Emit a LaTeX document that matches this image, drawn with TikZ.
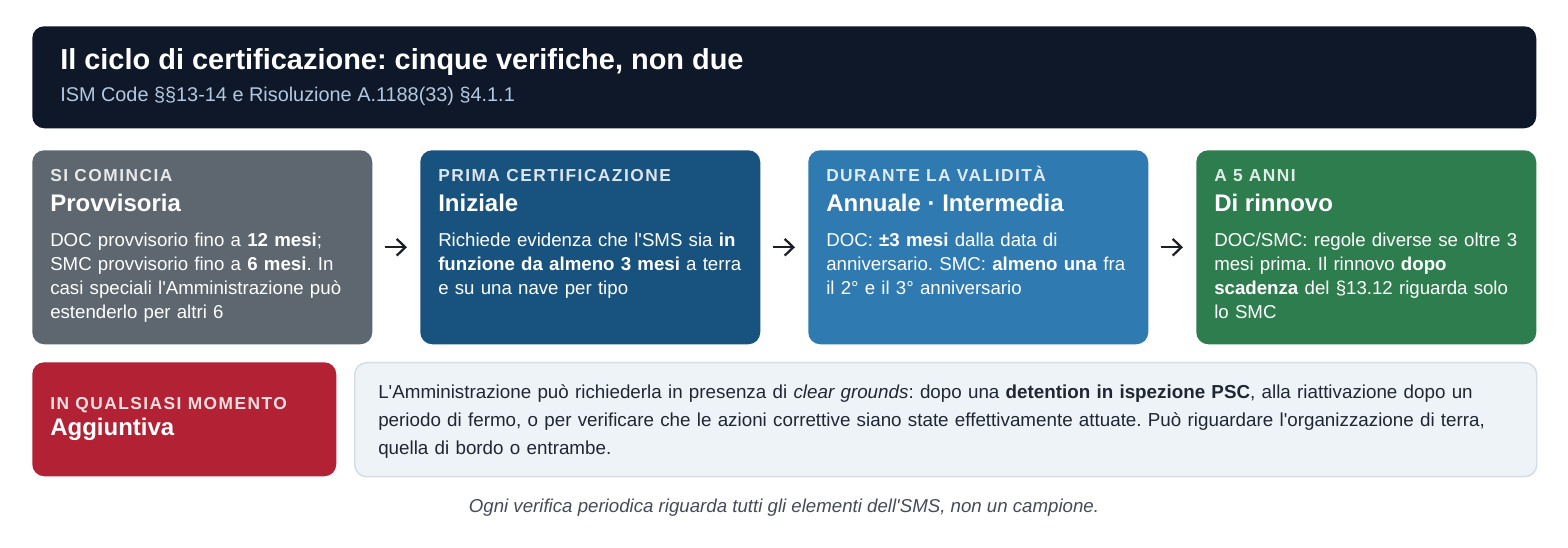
\documentclass[tikz,border=0pt]{standalone}
\usepackage{fontspec}
\setmainfont{Liberation Sans}
\newfontfamily\kickfont{Liberation Sans}[LetterSpace=8.5]
\usetikzlibrary{arrows.meta,positioning}

\definecolor{headbg}{HTML}{0E1828}
\definecolor{subtxt}{HTML}{B3C8E2}
\definecolor{provgray}{HTML}{5E6670}
\definecolor{inizblue}{HTML}{18527E}
\definecolor{annblue}{HTML}{2E7AB1}
\definecolor{rinngreen}{HTML}{2E7D4E}
\definecolor{aggred}{HTML}{B22234}
\definecolor{notebg}{HTML}{EEF3F8}
\definecolor{noteline}{HTML}{D3DDE8}
\definecolor{notetxt}{HTML}{1E2733}
\definecolor{foottxt}{HTML}{454C57}
\definecolor{arrowcol}{HTML}{1A1F28}

\newcommand{\apo}{\textquotesingle}

\begin{document}
\frenchspacing
\begin{tikzpicture}[x=0.75pt, y=-0.75pt,
    card/.style={anchor=north west, inner sep=0, rounded corners=9pt, minimum width=255pt, minimum height=145.5pt},
    kicker/.style={anchor=base west, inner sep=0, text=white, text opacity=0.85, font=\kickfont\bfseries\fontsize{13}{15}\selectfont},
    heading/.style={anchor=base west, inner sep=0, text=white, font=\bfseries\fontsize{18}{22}\selectfont},
    body/.style={anchor=north west, inner sep=0, text=white, text width=240pt, align=left, font=\fontsize{14}{18}\selectfont},
    next/.style={draw=arrowcol, line width=1.7pt, -{Straight Barb[length=6.5pt,width=12.5pt]}, shorten <=9pt, shorten >=9.75pt}]

    \path[fill=white, use as bounding box] (0,0) rectangle (1568,548);

    % header
    \node[card, fill=headbg, minimum width=1128pt, minimum height=76.5pt] (head) at (32,26) {};
    \node[anchor=base west, inner sep=0, text=white, font=\bfseries\fontsize{21.7}{26}\selectfont] (title) at (60,70) {Il ciclo di certificazione: cinque verifiche, non due};
    \node[anchor=base west, inner sep=0, text=subtxt, font=\fontsize{14.9}{18}\selectfont] (subtitle) at (60,102) {ISM Code §§13-14 e Risoluzione A.1188(33) §4.1.1};

    % the four steps
    \node[card, fill=provgray] (prov) at (32,150) {};
    \node[card, fill=inizblue] (iniz) at (420,150) {};
    \node[card, fill=annblue] (ann) at (808,150) {};
    \node[card, fill=rinngreen] (rinn) at (1196,150) {};

    \node[kicker] (provk) at (50,182) {SI COMINCIA};
    \node[heading] (provh) at (50,212) {Provvisoria};
    \node[body] (provb) at (50,232.5) {DOC provvisorio fino a \textbf{12 mesi};\\ SMC provvisorio fino a \textbf{6 mesi}. In\\ casi speciali l\apo Amministrazione può\\ estenderlo per altri 6};

    \node[kicker] (inizk) at (438,182) {PRIMA CERTIFICAZIONE};
    \node[heading] (inizh) at (438,212) {Iniziale};
    \node[body] (inizb) at (438,232.5) {Richiede evidenza che l\apo SMS sia \textbf{in}\\ \textbf{funzione da almeno 3 mesi} a terra\\ e su una nave per tipo};

    \node[kicker] (annk) at (826,182) {DURANTE LA VALIDITÀ};
    \node[heading] (annh) at (826,212) {Annuale · Intermedia};
    \node[body] (annb) at (826,232.5) {DOC: \textbf{±3 mesi} dalla data di\\ anniversario. SMC: \textbf{almeno una} fra\\ il 2° e il 3° anniversario};

    \node[kicker] (rinnk) at (1214,182) {A 5 ANNI};
    \node[heading] (rinnh) at (1214,212) {Di rinnovo};
    \node[body] (rinnb) at (1214,232.5) {DOC/SMC: regole diverse se oltre 3\\ mesi prima. Il rinnovo \textbf{dopo}\\ \textbf{scadenza} del §13.12 riguarda solo\\ lo SMC};

    \draw[next] (prov) -- (iniz);
    \draw[next] (iniz) -- (ann);
    \draw[next] (ann) -- (rinn);

    % additional audit
    \node[card, fill=aggred, minimum width=228pt, minimum height=85.5pt] (agg) at (32,362) {};
    \node[kicker] (aggk) at (50,409.5) {IN QUALSIASI MOMENTO};
    \node[heading] (aggh) at (50,436) {Aggiuntiva};

    \node[card, fill=notebg, draw=noteline, line width=1.1pt, minimum width=886.5pt, minimum height=85.5pt] (note) at (354,362) {};
    \node[body, text=notetxt, text width=880pt, font=\fontsize{14.1}{21}\selectfont] (notet) at (378,384) {L\apo Amministrazione può richiederla in presenza di \textit{clear grounds}: dopo una \textbf{detention in ispezione PSC}, alla riattivazione dopo un\\ periodo di fermo, o per verificare che le azioni correttive siano state effettivamente attuate. Può riguardare l\apo organizzazione di terra,\\ quella di bordo o entrambe.};

    \node[anchor=base, inner sep=0, text=foottxt, font=\itshape\fontsize{14}{18}\selectfont] (foot) at (784,513) {Ogni verifica periodica riguarda tutti gli elementi dell\apo SMS, non un campione.};
\end{tikzpicture}
\end{document}
